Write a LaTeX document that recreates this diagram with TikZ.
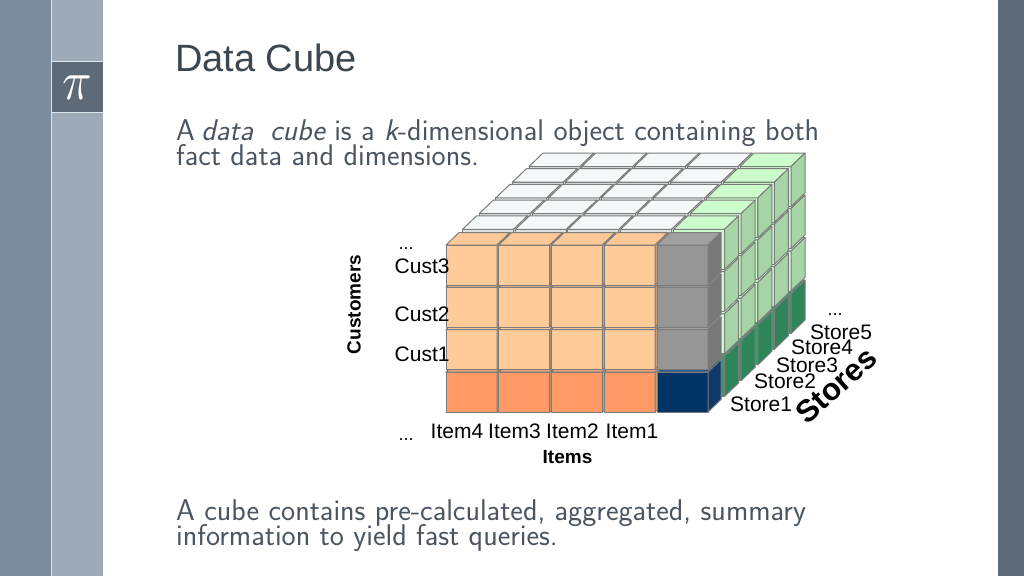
\documentclass[tikz,border=0pt]{standalone}
\usepackage{fontspec}
\newfontfamily\lab{Liberation Sans}
\definecolor{barA}{HTML}{7B8D9C}
\definecolor{barB}{HTML}{9DABB8}
\definecolor{barC}{HTML}{5D6B79}
\definecolor{barLine}{HTML}{DDE4EA}
\definecolor{titleC}{HTML}{3A4650}
\definecolor{bodyC}{HTML}{4A5561}
\definecolor{edgeC}{HTML}{7C7C7C}
\definecolor{orF}{HTML}{FFCC99}
\definecolor{orT}{HTML}{FDC997}
\definecolor{orS}{HTML}{C8A07A}
\definecolor{deepF}{HTML}{FF9966}
\definecolor{deepT}{HTML}{E8A27A}
\definecolor{grF}{HTML}{969696}
\definecolor{grT}{HTML}{A0A0A0}
\definecolor{grS}{HTML}{787878}
\definecolor{blF}{HTML}{003366}
\definecolor{blT}{HTML}{2F5A86}
\definecolor{blS}{HTML}{0F3A68}
\definecolor{wtF}{HTML}{DDE3E3}
\definecolor{wtT}{HTML}{F5F8F8}
\definecolor{lgF}{HTML}{CCFFCC}
\definecolor{lgT}{HTML}{CCFBCC}
\definecolor{lgS}{HTML}{A6D4A6}
\definecolor{dgF}{HTML}{3A9A6A}
\definecolor{dgT}{HTML}{3F9A6C}
\definecolor{dgS}{HTML}{2E855A}
\tikzset{
  x=1pt,y=-1pt,
  face/.style={draw=edgeC,line width=1pt,line join=round},
  bodytext/.style={anchor=base west,inner sep=0pt,text=bodyC,font=\sffamily\fontsize{30}{30}\selectfont},
  labeltext/.style={anchor=base west,inner sep=0pt,font=\lab\fontsize{21}{21}\selectfont},
  boldtext/.style={inner sep=0pt,font=\lab\bfseries\fontsize{19}{19}\selectfont},
  dotstext/.style={inner sep=0pt,anchor=base,font=\lab\fontsize{18}{18}\selectfont}
}
% #1 x, #2 y, #3 w, #4 front, #5 top, #6 side, #7 depth x, #8 depth y
\newcommand{\onecube}[8]{%
  \filldraw[face,fill=#4] (#1,#2) rectangle ++(#3,40);
  \filldraw[face,fill=#5] (#1,#2) -- ++(#7,-#8) -- ++(#3,0) -- ++(-#7,#8) -- cycle;
  \filldraw[face,fill=#6] (#1+#3,#2) -- ++(#7,-#8) -- ++(0,40) -- ++(-#7,#8) -- cycle;
}
\begin{document}
\begin{tikzpicture}
\useasboundingbox (0,0) rectangle (1024,576);
\fill[white] (0,0) rectangle (1024,576);
\fill[barA] (0,0) rectangle (51,576);
\fill[barB] (52,0) rectangle (103,576);
\fill[barC] (998,0) rectangle (1024,576);
\fill[barLine] (51,0) rectangle (52.2,576);
\fill[barC] (52,62) rectangle (103,112);
\fill[barLine] (52,61.2) rectangle (103,62.4);
\fill[barLine] (52,112) rectangle (103,113.2);
\node[inner sep=0pt,text=white] (pi) at (77.5,87.5) {\scalebox{4.9}[5.5]{$\pi$}};

\node[anchor=base west,inner sep=0pt,text=titleC,font=\lab\fontsize{38}{38}\selectfont] (title) at (175,71) {Data Cube};
\node[bodytext] (l1) at (176,140) {A\hspace{-3pt} {\slshape data\hspace{0.25em} cube} is a {\slshape k}-dimensional object containing both};
\node[bodytext] (l2) at (176,165) {fact data and dimensions.};
\node[bodytext] (l3) at (176,520.5) {A cube contains pre-calculated, aggregated, summary};
\node[bodytext] (l4) at (176,545.5) {information to yield fast queries.};

% back layers, back to front
\foreach \d in {5,4,3,2,1}{
  \pgfmathsetmacro{\ox}{16.6*\d}
  \pgfmathsetmacro{\oy}{15.7*\d}
  \foreach \r/\ry in {0/372,1/329.5,2/287,3/245}{
    \foreach \c/\cx in {0/446,1/498.8,2/551.3,3/604,4/657}{
      \pgfmathsetmacro{\px}{\cx+\ox}
      \pgfmathsetmacro{\py}{\ry-\oy}
      \ifnum\c=4
        \ifnum\r=0
          \onecube{\px}{\py}{51}{dgF}{dgT}{dgS}{14}{13.5}
        \else
          \onecube{\px}{\py}{51}{lgF}{lgT}{lgS}{14}{13.5}
        \fi
      \else
        \onecube{\px}{\py}{51}{wtF}{wtT}{wtF}{14}{13.5}
      \fi
    }
  }
}
% front layer
\foreach \c/\cx in {0/446,1/498.8,2/551.3,3/604}{
  \onecube{\cx}{372}{51}{deepF}{deepT}{orS}{13}{12.5}
  \onecube{\cx}{329.5}{51}{orF}{orT}{orS}{13}{12.5}
  \onecube{\cx}{287}{51}{orF}{orT}{orS}{13}{12.5}
  \onecube{\cx}{245}{51}{orF}{orT}{orS}{13}{12.5}
}
\onecube{657}{372}{51}{blF}{blT}{blS}{13}{12.5}
\onecube{657}{329.5}{51}{grF}{grT}{grS}{13}{12.5}
\onecube{657}{287}{51}{grF}{grT}{grS}{13}{12.5}
\onecube{657}{245}{51}{grF}{grT}{grS}{13}{12.5}

% labels
\node[labeltext] (c3) at (394.5,273) {Cust3};
\node[labeltext] (c2) at (394.5,321) {Cust2};
\node[labeltext] (c1) at (394.5,361) {Cust1};
\node[dotstext] (dc) at (406,249) {...};
\node[dotstext] (di) at (406,440) {...};
\node[dotstext] (ds) at (835,315) {...};
\node[labeltext] (i4) at (430.5,438) {Item4};
\node[labeltext] (i3) at (488,438) {Item3};
\node[labeltext] (i2) at (546,438) {Item2};
\node[labeltext] (i1) at (605.5,438) {Item1};
\node[labeltext] (s5) at (810,339) {Store5};
\node[labeltext] (s4) at (791,354) {Store4};
\node[labeltext] (s3) at (776,372) {Store3};
\node[labeltext] (s2) at (754,388) {Store2};
\node[labeltext] (s1) at (730,411) {Store1};
\node[boldtext] (items) at (567.5,457) {Items};
\node[boldtext,rotate=90] (cust) at (354,304.5) {Customers};
\node[boldtext,font=\lab\bfseries\fontsize{31}{31}\selectfont,rotate=42] (stores) at (836,385.5) {Stores};
\end{tikzpicture}
\end{document}
